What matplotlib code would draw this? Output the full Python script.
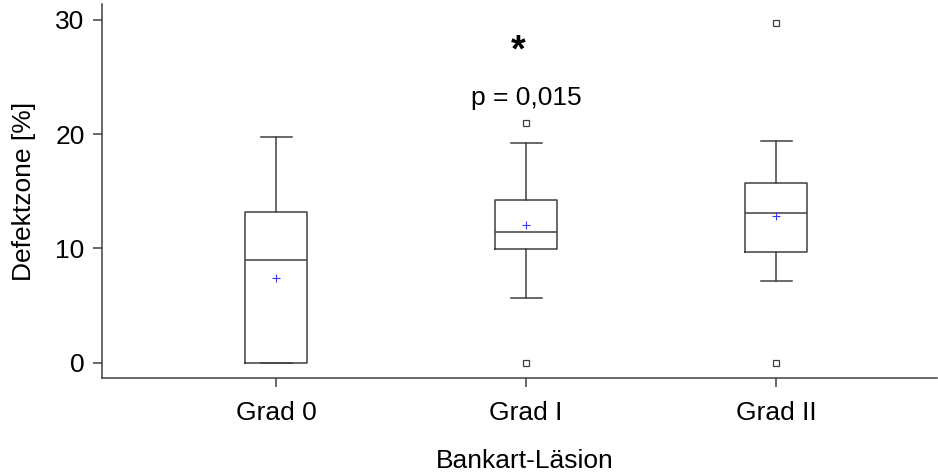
import matplotlib
matplotlib.use("Agg")
import matplotlib.pyplot as plt

plt.rcParams['font.family'] = ['Liberation Sans', 'DejaVu Sans']

categories = ["Grad 0", "Grad I", "Grad II"]
q1 = [0.0, 9.98, 9.72]
medians = [8.97, 11.42, 13.08]
q3 = [13.17, 14.25, 15.76]
whisker_low = [0.0, 5.64, 7.15]
whisker_high = [19.76, 19.21, 19.39]
means = [7.39, 12.08, 12.85]
outliers = [[], [21.0, 0.0], [29.72, 0.0]]
y_ticks = [0, 10, 20, 30]

W, H = 938, 474
fig = plt.figure(figsize=(W / 100, H / 100), dpi=100)
left, right = 102 / W, 937 / W
bottom = (H - 378.3) / H
top = (H - 4.0) / H
ax = fig.add_axes([left, bottom, right - left, top - bottom])

stats = []
for i, c in enumerate(categories):
    stats.append(dict(label=c, q1=q1[i], med=medians[i], q3=q3[i],
                      whislo=whisker_low[i], whishi=whisker_high[i],
                      mean=means[i], fliers=outliers[i]))

lc = '#404040'
lw = 1.1
ax.bxp(stats, positions=[1, 2, 3], widths=0.247, capwidths=0.124,
       showmeans=True, showfliers=True,
       boxprops=dict(color=lc, linewidth=lw),
       whiskerprops=dict(color=lc, linewidth=lw),
       capprops=dict(color=lc, linewidth=lw),
       medianprops=dict(color=lc, linewidth=lw),
       meanprops=dict(marker='+', markeredgecolor='#3a3aff', markerfacecolor='none',
                      markersize=6, markeredgewidth=0.8, linestyle='none'),
       flierprops=dict(marker='s', markeredgecolor=lc, markerfacecolor='white',
                       markersize=5, markeredgewidth=0.9, linestyle='none'))

ax.set_xlim(1 - 174 / 250, 3 + 161 / 250)
ax.set_ylim(-1.37, 31.4)
ax.set_yticks(y_ticks)
ax.set_yticklabels([str(v) for v in y_ticks])
ax.set_xticks([1, 2, 3])
ax.set_xticklabels(categories)

for s in ['top', 'right']:
    ax.spines[s].set_visible(False)
for s in ['left', 'bottom']:
    ax.spines[s].set_color(lc)
    ax.spines[s].set_linewidth(lw)

ax.tick_params(axis='both', direction='out', length=6.5, width=lw, color=lc,
               labelsize=19, labelcolor='black')
ax.tick_params(axis='y', pad=6)
ax.tick_params(axis='x', pad=10)

ax.set_ylabel("Defektzone [%]", fontsize=19)
ax.set_xlabel("Bankart-Läsion", fontsize=19)
ax.yaxis.set_label_coords((36 - 102) / 836, 0.5)
ax.xaxis.set_label_coords((525 - 102) / 836, (378.3 - 449) / 374.3)

ax.text(2, 23.2, "p = 0,015", ha='center', va='center', fontsize=19,
        bbox=dict(facecolor='white', edgecolor='none', pad=6.5), zorder=5)
ax.text(1.97, 27.2, "*", ha='center', va='center', fontsize=27, fontweight='bold',
        zorder=6)

fig.savefig("out.png", dpi=100)
